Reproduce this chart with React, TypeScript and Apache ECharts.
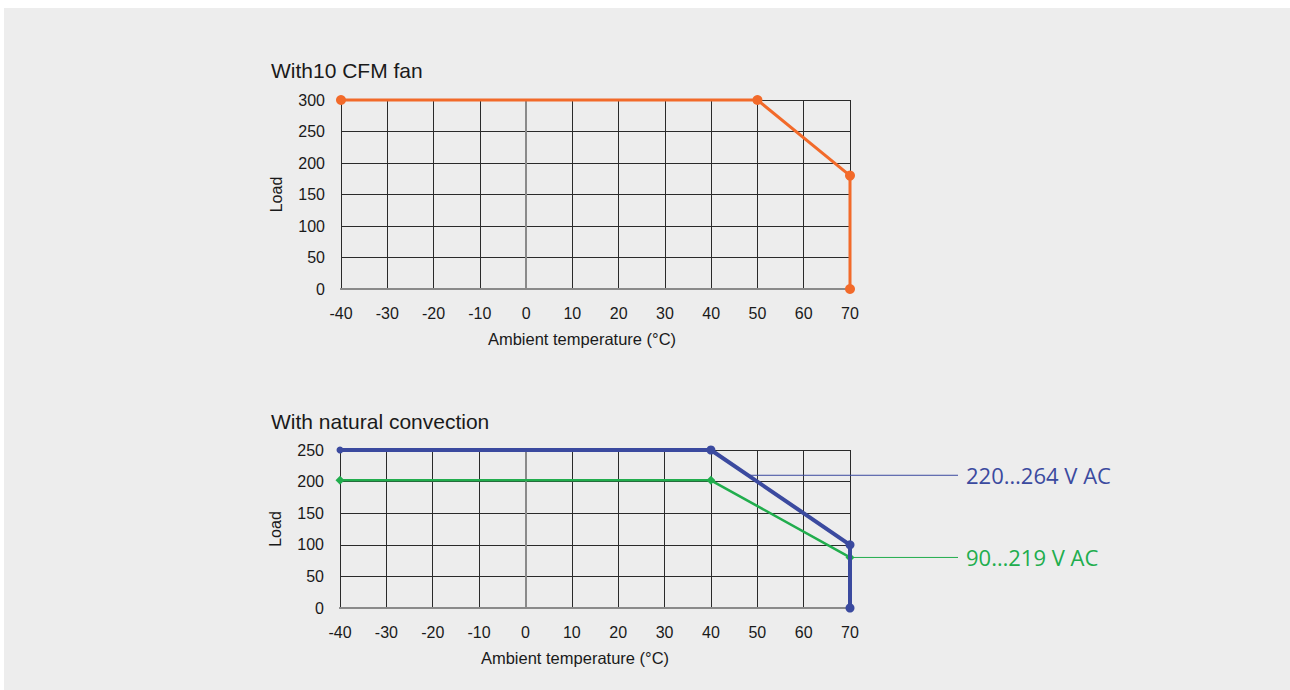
import React, { useEffect, useRef } from "react";
import * as echarts from "echarts";

const xTicks = [-40, -30, -20, -10, 0, 10, 20, 30, 40, 50, 60, 70];
const fanCurve: [number, number][] = [[-40, 300], [50, 300], [70, 180], [70, 0]];
const highVac: [number, number][] = [[-40, 250], [40, 250], [70, 100], [70, 0]];
const lowVac: [number, number][] = [[-40, 202], [40, 202], [70, 80]];
const highLabelAnchor: [number, number] = [48, 210];
const lowLabelAnchor: [number, number] = [70, 80];
const highLabel = "220…264 V AC";
const lowLabel = "90…219 V AC";

const ORANGE = "#f26a2a";
const BLUE = "#3b4a9f";
const GREEN = "#21ad4d";
const GRAYAX = "#8a8a8a";
const DARK = "#2a2a2a";
const FONT = "'Liberation Sans', Arial, sans-serif";
const TXT = "#1a1a1a";

function xAxisMain(gridIndex: number) {
  return {
    type: "value", gridIndex, min: -40, max: 70, interval: 10,
    axisLine: { show: true, lineStyle: { color: GRAYAX, width: 2 } },
    axisTick: { show: false },
    axisLabel: { color: TXT, fontSize: 16, fontFamily: FONT, margin: 16 },
    splitLine: { show: true, lineStyle: { color: DARK, width: 1 } },
  };
}
function xAxisTop(gridIndex: number) {
  return {
    type: "value", gridIndex, min: -40, max: 70, interval: 10, position: "top",
    axisLine: { show: true, lineStyle: { color: GRAYAX, width: 2 } },
    axisTick: { show: false }, axisLabel: { show: false }, splitLine: { show: false },
  };
}
function yAxisMain(gridIndex: number, max: number) {
  return {
    type: "value", gridIndex, min: 0, max, interval: 50,
    name: "Load", nameLocation: "middle", nameGap: 57, nameRotate: 90,
    nameTextStyle: { color: TXT, fontSize: 16, fontFamily: FONT },
    axisLine: { show: true, lineStyle: { color: GRAYAX, width: 2 } },
    axisTick: { show: false },
    axisLabel: { color: TXT, fontSize: 16, fontFamily: FONT, margin: 16 },
    splitLine: { show: true, lineStyle: { color: DARK, width: 1 } },
  };
}
function yAxisRight(gridIndex: number, max: number) {
  return {
    type: "value", gridIndex, min: 0, max, interval: 50, position: "right",
    axisLine: { show: true, lineStyle: { color: GRAYAX, width: 2 } },
    axisTick: { show: false }, axisLabel: { show: false }, splitLine: { show: false },
  };
}

export default function App() {
  const ref = useRef<HTMLDivElement>(null);
  useEffect(() => {
    if (!ref.current) return;
    const chart = echarts.init(ref.current, undefined, { renderer: "svg" });
    chart.setOption({
      animation: false,
      backgroundColor: "#ffffff",
      graphic: [
        { id: "bg", type: "rect", z: -10, shape: { x: 4, y: 8, width: 1290, height: 690 }, style: { fill: "#ededed" } },
        { id: "t1", type: "text", x: 271, y: 70, style: { text: "With10 CFM fan", fontSize: 21, fontFamily: FONT, fill: TXT, verticalAlign: "middle" } },
        { id: "t2", type: "text", x: 271, y: 421, style: { text: "With natural convection", fontSize: 21, fontFamily: FONT, fill: TXT, verticalAlign: "middle" } },
        { id: "n1", type: "text", x: 582, y: 339, style: { text: "Ambient temperature (°C)", fontSize: 16.5, fontFamily: FONT, fill: TXT, align: "center", verticalAlign: "middle" } },
        { id: "n2", type: "text", x: 575, y: 658, style: { text: "Ambient temperature (°C)", fontSize: 16.5, fontFamily: FONT, fill: TXT, align: "center", verticalAlign: "middle" } },
      ],
      grid: [
        { left: 341, top: 100, width: 509, height: 189 },
        { left: 340, top: 450, width: 510, height: 158 },
      ],
      xAxis: [xAxisMain(0), xAxisTop(0), xAxisMain(1), xAxisTop(1)],
      yAxis: [yAxisMain(0, 300), yAxisRight(0, 300), yAxisMain(1, 250), yAxisRight(1, 250)],
      series: [
        {
          type: "line", xAxisIndex: 0, yAxisIndex: 0, data: fanCurve, clip: false,
          lineStyle: { color: ORANGE, width: 3 }, itemStyle: { color: ORANGE },
          symbol: "circle", symbolSize: 10, z: 5,
        },
        {
          type: "line", xAxisIndex: 2, yAxisIndex: 2, data: lowVac, clip: false,
          lineStyle: { color: GREEN, width: 2.5 }, itemStyle: { color: GREEN },
          symbol: "diamond", symbolSize: 9, z: 4,
        },
        {
          type: "line", xAxisIndex: 2, yAxisIndex: 2, data: highVac, clip: false,
          lineStyle: { color: BLUE, width: 4 }, itemStyle: { color: BLUE },
          symbol: "circle", symbolSize: (v: number[]) => (v[0] === -40 ? 7 : 9), z: 5,
        },
      ],
    });
    const hp = chart.convertToPixel({ gridIndex: 1 }, highLabelAnchor) as number[];
    const lp = chart.convertToPixel({ gridIndex: 1 }, lowLabelAnchor) as number[];
    const endX = 958;
    const labelX = 966;
    chart.setOption({
      graphic: [
        { id: "hl", type: "line", z: 3, shape: { x1: hp[0], y1: hp[1], x2: endX, y2: hp[1] }, style: { stroke: BLUE, lineWidth: 1 } },
        { id: "ll", type: "line", z: 3, shape: { x1: lp[0], y1: lp[1], x2: endX, y2: lp[1] }, style: { stroke: GREEN, lineWidth: 1 } },
        { id: "ht", type: "text", x: labelX, y: hp[1], style: { text: highLabel, fill: BLUE, fontSize: 22, fontFamily: "Open Sans", verticalAlign: "middle" } },
        { id: "lt", type: "text", x: labelX, y: lp[1], style: { text: lowLabel, fill: GREEN, fontSize: 22, fontFamily: "Open Sans", verticalAlign: "middle" } },
      ],
    });
    return () => chart.dispose();
  }, []);
  return <div ref={ref} style={{ position: "fixed", left: 0, top: 0, width: 1290, height: 690 }} />;
}
